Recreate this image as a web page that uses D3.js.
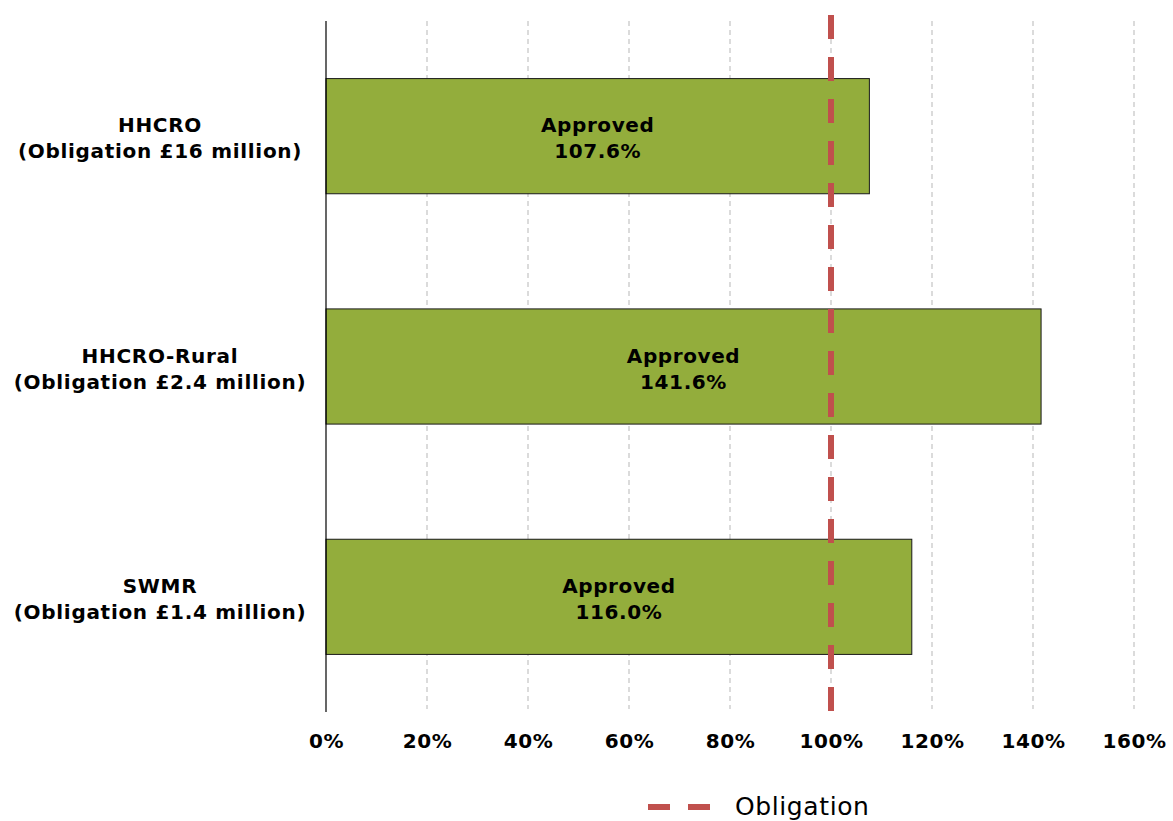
<!DOCTYPE html>
<html><head><meta charset="utf-8">
<script src="https://cdn.jsdelivr.net/npm/d3@7"></script>
<style>body{margin:0;background:#fff}svg{display:block}text{font-family:"DejaVu Sans",Verdana,sans-serif}</style>
</head><body><svg id="c" width="1173" height="821"></svg>
<script>
const categories = ["HHCRO", "HHCRO-Rural", "SWMR"];
const obligationLabels = ["(Obligation £16 million)", "(Obligation £2.4 million)", "(Obligation £1.4 million)"];
const seriesName = "Approved";
const approved = [107.6, 141.6, 116.0];
const obligation = 100;
const xTicks = [0, 20, 40, 60, 80, 100, 120, 140, 160];

const svg = d3.select("#c");
const x = d3.scaleLinear().domain([0, 160]).range([326, 1134]);
const y = d3.scaleBand().domain(categories).range([21, 712]).paddingInner(0.5).paddingOuter(0.25);

// gridlines
svg.append("g").selectAll("line").data(xTicks.filter(d => d > 0)).join("line")
  .attr("x1", d => x(d)).attr("x2", d => x(d)).attr("y1", 21).attr("y2", 709)
  .attr("stroke", "#c8c8c8").attr("stroke-width", 1.3).attr("stroke-dasharray", "5,4");

// bars
svg.append("g").selectAll("rect").data(approved).join("rect")
  .attr("x", x(0)).attr("y", (d, i) => y(categories[i]))
  .attr("width", d => x(d) - x(0)).attr("height", y.bandwidth())
  .attr("fill", "#93ad3c").attr("stroke", "#1a1a1a").attr("stroke-width", 1);

// bar labels
const bl = svg.append("g").selectAll("text").data(approved).join("text")
  .attr("text-anchor", "middle").attr("font-weight", "bold").attr("font-size", 20)
  .attr("letter-spacing", 0.6).attr("fill", "#000");
bl.append("tspan").attr("x", d => (x(0) + x(d)) / 2).attr("y", (d, i) => y(categories[i]) + y.bandwidth() / 2 - 4).text(seriesName);
bl.append("tspan").attr("x", d => (x(0) + x(d)) / 2).attr("y", (d, i) => y(categories[i]) + y.bandwidth() / 2 + 22).text(d => d.toFixed(1) + "%");

// y axis line
svg.append("line").attr("x1", x(0)).attr("x2", x(0)).attr("y1", 21).attr("y2", 712).attr("stroke", "#000").attr("stroke-width", 1.2);

// x axis labels
const xAxis = d3.axisBottom(x).tickValues(xTicks).tickFormat(d => d + "%").tickSize(0).tickPadding(0);
const xg = svg.append("g").attr("transform", "translate(0,734)").call(xAxis);
xg.select(".domain").remove();
xg.selectAll("text").attr("font-size", 20).attr("font-weight", "bold").attr("fill", "#000")
  .attr("letter-spacing", 0.6).attr("font-family", '"DejaVu Sans",Verdana,sans-serif');

// category labels
const cl = svg.append("g").selectAll("text").data(categories).join("text")
  .attr("text-anchor", "middle").attr("font-weight", "bold").attr("font-size", 20)
  .attr("letter-spacing", 0.7).attr("fill", "#000");
cl.append("tspan").attr("x", 160).attr("y", d => y(d) + y.bandwidth() / 2 - 4).text(d => d);
cl.append("tspan").attr("x", 160).attr("y", (d, i) => y(d) + y.bandwidth() / 2 + 22).text((d, i) => obligationLabels[i]);

// obligation line
svg.append("line").attr("x1", x(obligation)).attr("x2", x(obligation)).attr("y1", 15).attr("y2", 712)
  .attr("stroke", "#c0504d").attr("stroke-width", 6).attr("stroke-dasharray", "24,18");

// legend
svg.append("line").attr("x1", 648).attr("x2", 710).attr("y1", 807).attr("y2", 807)
  .attr("stroke", "#c0504d").attr("stroke-width", 6).attr("stroke-dasharray", "22,18");
svg.append("text").attr("x", 735).attr("y", 815).attr("font-size", 25).attr("letter-spacing", 0.6)
  .attr("fill", "#000").text("Obligation");
</script></body></html>
